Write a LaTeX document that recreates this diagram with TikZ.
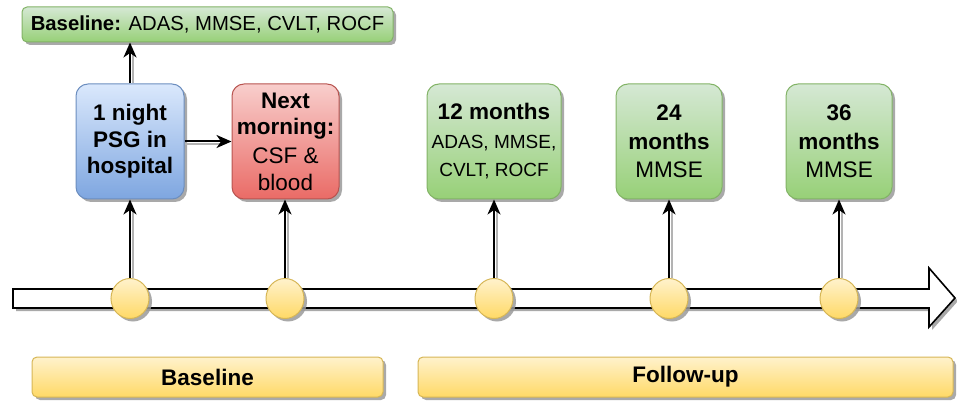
\documentclass[tikz,border=0pt]{standalone}
\usepackage{fontspec}
\setmainfont{Liberation Sans}
\usetikzlibrary{shapes.geometric,shadows,arrows.meta}
\definecolor{bluetop}{HTML}{DAE8FC}
\definecolor{bluebot}{HTML}{7EA6E0}
\definecolor{bluestroke}{HTML}{6C8EBF}
\definecolor{redtop}{HTML}{F8CECC}
\definecolor{redbot}{HTML}{EA6B66}
\definecolor{redstroke}{HTML}{B85450}
\definecolor{greentop}{HTML}{D5E8D4}
\definecolor{greenbot}{HTML}{97D077}
\definecolor{greenstroke}{HTML}{82B366}
\definecolor{yeltop}{HTML}{FFF2CC}
\definecolor{yelbot}{HTML}{FFD966}
\definecolor{yelstroke}{HTML}{D6B656}
\definecolor{shadowgray}{HTML}{9A9A9A}
\begin{document}
\begin{tikzpicture}[x=1pt,y=-1pt,
  shad/.style={drop shadow={shadow xshift=3pt, shadow yshift=-3pt, fill=shadowgray, opacity=0.85}},
  box/.style={rectangle, rounded corners=12pt, line width=1pt, minimum height=115pt,
    align=center, inner sep=0pt, shad},
  bluebox/.style={box, draw=bluestroke, top color=bluetop, bottom color=bluebot},
  redbox/.style={box, draw=redstroke, top color=redtop, bottom color=redbot},
  greenbox/.style={box, draw=greenstroke, top color=greentop, bottom color=greenbot},
  bar/.style={rectangle, rounded corners=5pt, line width=1pt, draw=yelstroke,
    top color=yeltop, bottom color=yelbot, minimum height=40pt, inner sep=0pt, shad,
    font=\fontsize{22.5}{26}\selectfont\bfseries},
  dot/.style={ellipse, minimum width=38pt, minimum height=40pt, inner sep=0pt,
    line width=1pt, draw=yelstroke, top color=yeltop, bottom color=yelbot, shad},
  arr/.style={line width=2pt, -{Stealth[length=15pt,width=13pt,inset=4.5pt]}},
  arrsh/.style={line width=2pt, draw=shadowgray!75}
]
\useasboundingbox (0,0) rectangle (957,403);

% timeline arrow
\path[draw=black, line width=1.6pt, fill=white, shad]
  (13,289) -- (929,289) -- (929,268) -- (955,298) -- (929,327) -- (929,308) -- (13,308) -- cycle;

% top box
\node[rectangle, rounded corners=5pt, line width=1pt, draw=greenstroke,
  top color=greentop, bottom color=greenbot, minimum width=371pt, minimum height=35pt,
  inner sep=0pt, shad, font=\fontsize{20.3}{24}\selectfont]
  (top) at (207.5,24.5) {\textbf{Baseline:} ADAS, MMSE, CVLT, ROCF};

% event boxes
\node[bluebox, minimum width=108pt, font=\fontsize{22.5}{26.5}\selectfont\bfseries]
  (psg) at (130,141.5) {1 night\\PSG in\\hospital};
\node[redbox, minimum width=107pt, font=\fontsize{22.5}{26.5}\selectfont]
  (csf) at (285.5,141.5) {\textbf{Next}\\\textbf{morning:}\\[2.5pt]CSF \&\\blood};
\node[greenbox, minimum width=134pt, font=\fontsize{22.5}{28.5}\selectfont]
  (m12) at (494,141.5) {\textbf{12 months}\\{\fontsize{19}{28.5}\selectfont ADAS, MMSE,}\\{\fontsize{19}{28.5}\selectfont CVLT, ROCF}};
\node[greenbox, minimum width=106pt, font=\fontsize{22.5}{28.5}\selectfont]
  (m24) at (669,141.5) {\textbf{24}\\\textbf{months}\\MMSE};
\node[greenbox, minimum width=106pt, font=\fontsize{22.5}{28.5}\selectfont]
  (m36) at (839,141.5) {\textbf{36}\\\textbf{months}\\MMSE};

% time points
\node[dot] (d1) at (130,298.5) {};
\node[dot] (d2) at (285,298.5) {};
\node[dot] (d3) at (494,298.5) {};
\node[dot] (d4) at (669,298.5) {};
\node[dot] (d5) at (839,298.5) {};

% bars
\node[bar, minimum width=351pt] (bl) at (207.5,377) {Baseline};
\node[bar, minimum width=535pt] (fu) at (685.5,377) {Follow-up};

% connector shadows
\draw[arrsh] ([xshift=3pt]psg.north) -- ([xshift=3pt,yshift=-12pt]psg.north |- top.south);
\draw[arrsh] ([yshift=-3pt]psg.east) -- ([xshift=-12pt,yshift=-3pt]csf.west);
\foreach \dd/\bb in {d1/psg,d2/csf,d3/m12,d4/m24,d5/m36}
  \draw[arrsh] ([xshift=3pt]\dd.north) -- ([xshift=3pt,yshift=-12pt]\dd.north |- \bb.south);

% connectors
\draw[arr] (psg.north) -- (psg.north |- top.south);
\draw[arr] (psg.east) -- (csf.west);
\draw[arr] (d1.north) -- (d1.north |- psg.south);
\draw[arr] (d2.north) -- (d2.north |- csf.south);
\draw[arr] (d3.north) -- (d3.north |- m12.south);
\draw[arr] (d4.north) -- (d4.north |- m24.south);
\draw[arr] (d5.north) -- (d5.north |- m36.south);
\end{tikzpicture}
\end{document}
